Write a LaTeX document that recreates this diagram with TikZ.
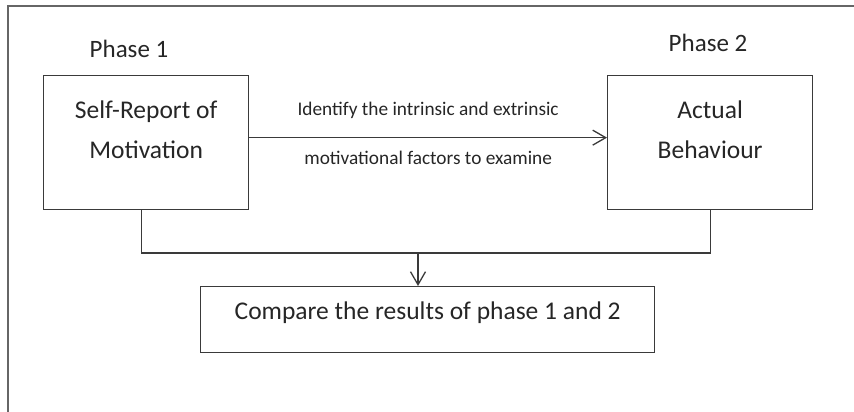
\documentclass[tikz,border=0pt]{standalone}
\usepackage{fontspec}
\setmainfont{Carlito}
\usetikzlibrary{arrows.meta}
\definecolor{linegray}{HTML}{3A3A3A}
\newcommand{\boxbody}[4]{\parbox[t][#2][t]{#1}{\centering\rule{0pt}{#3}#4}}
\begin{document}
\begin{tikzpicture}[x=1pt, y=-1pt,
        every node/.style={inner sep=0pt, text=black!85},
        box/.style={draw=linegray, line width=1.3pt, anchor=north west, font=\fontsize{25.5}{40}\selectfont},
        phase/.style={anchor=base, font=\fontsize{25}{30}\selectfont},
        note/.style={anchor=base, font=\fontsize{19.3}{24}\selectfont},
        line/.style={draw=linegray, line width=1.3pt},
        tip/.style={line, -{Straight Barb[length=13pt, width=15pt, line width=1.3pt]}}]
        \useasboundingbox (0,0) rectangle (854,412);
        \draw[line, draw=black!60, line width=1.5pt] (8,6) rectangle (862,420);
        \node[phase] (phase1) at (129,58) {Phase 1};
        \node[phase] (phase2) at (708,52) {Phase 2};
        \node[box] (self) at (43,75) {\boxbody{205pt}{134pt}{43pt}{Self-Report of\\Motivation}};
        \node[box] (actual) at (607,75) {\boxbody{205pt}{134pt}{43pt}{Actual\\Behaviour}};
        \node[box] (compare) at (200,286) {\boxbody{454pt}{66pt}{33pt}{Compare the results of phase 1 and 2}};
        \draw[tip] ([yshift=5pt]self.east) -- ([yshift=5pt]actual.west)
            node[note, midway, yshift=22pt] (notetop) {Identify the intrinsic and extrinsic}
            node[note, midway, yshift=-27pt] (notebottom) {motivational factors to examine};
        \coordinate (join) at (418,253);
        \draw[line] ([xshift=-4.5pt]self.south) |- (join) -| (actual.south);
        \draw[tip] (join) -- (join |- compare.north);
\end{tikzpicture}
\end{document}
